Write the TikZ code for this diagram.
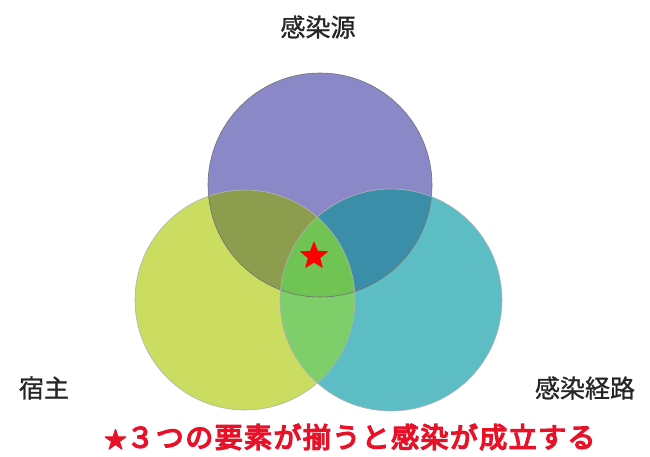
\documentclass[tikz,border=0pt]{standalone}
\usepackage{fontspec}
\newfontfamily\cjk[FakeBold=1]{Noto Sans CJK JP}
\newfontfamily\cjkb[FakeBold=5,LetterSpace=5]{Noto Sans CJK JP}
\usetikzlibrary{shapes.geometric}
\definecolor{pc}{RGB}{139,136,200}
\definecolor{gc}{RGB}{202,221,96}
\definecolor{tc}{RGB}{92,190,196}
\definecolor{pg}{RGB}{140,158,78}
\definecolor{pt}{RGB}{58,142,168}
\definecolor{gt}{RGB}{126,206,106}
\definecolor{pgt}{RGB}{112,196,84}
\definecolor{txtred}{RGB}{232,18,40}
\tikzset{
  lbl/.style={font=\cjk\fontsize{25}{25}\selectfont, text=black!85},
  outl/.style={draw=black!55, line width=0.6pt},
}
\begin{document}
\begin{tikzpicture}[x=1pt,y=-1pt]
\useasboundingbox (0,0) rectangle (650,456);
\fill[white] (0,0) rectangle (650,456);
\coordinate (P) at (320,185);
\coordinate (G) at (245,300);
\coordinate (T) at (391,300);
\def\rp{112}\def\rg{110}\def\rt{111}
\fill[pc] (P) circle (\rp);
\fill[gc] (G) circle (\rg);
\fill[tc] (T) circle (\rt);
\begin{scope}\clip (G) circle (\rg); \fill[gt] (T) circle (\rt);\end{scope}
\begin{scope}\clip (P) circle (\rp); \fill[pg] (G) circle (\rg);\end{scope}
\begin{scope}\clip (P) circle (\rp); \fill[pt] (T) circle (\rt);\end{scope}
\begin{scope}\clip (P) circle (\rp); \clip (G) circle (\rg); \fill[pgt] (T) circle (\rt);\end{scope}
\draw[outl] (P) circle (\rp);
\draw[outl, draw=black!30] (G) circle (\rg);
\draw[outl, draw=black!30] (T) circle (\rt);
\node[star, star points=5, star point ratio=2.3, fill=red, minimum size=30pt, inner sep=0pt] (star) at (314,256) {};
\node[lbl] (src) at (318,27) {感染源};
\node[lbl] (host) at (44,388) {宿主};
\node[lbl] (route) at (585,388) {感染経路};
\node[font=\cjkb\fontsize{28}{28}\selectfont, text=txtred] (cap) at (350,437) {{\fontsize{22}{22}\selectfont ★}３つの要素が揃うと感染が成立する};
\end{tikzpicture}
\end{document}
